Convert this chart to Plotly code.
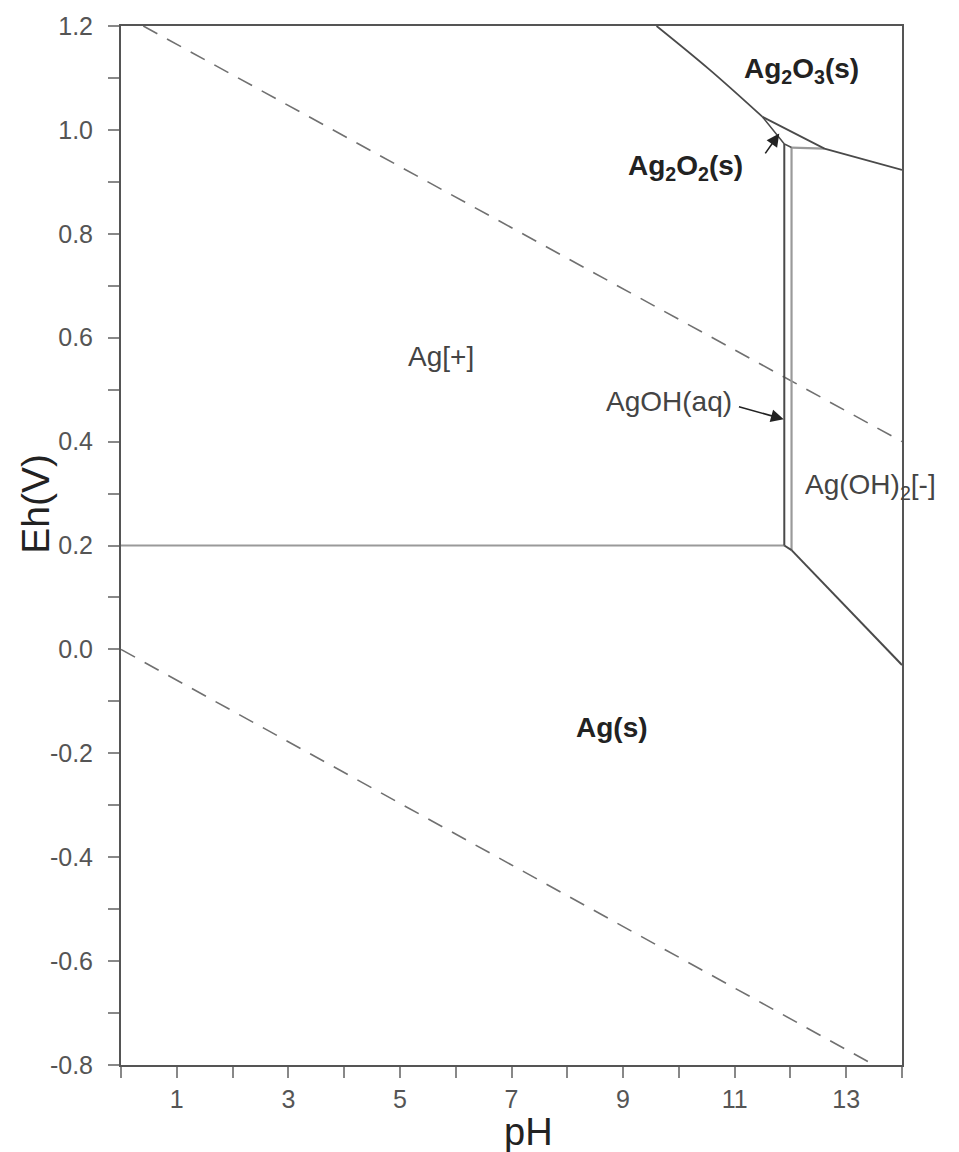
import plotly.graph_objects as go

# ---- data ----
# water stability lines (dashed)
o2_ph = [0.4, 14.0]
o2_eh = [1.20, 0.40]
h2_ph = [0.0, 13.5]
h2_eh = [0.0, -0.80]

# Ag+/Ag(s) boundary
agp_ags_ph = [0.0, 11.89]
agp_ags_eh = [0.20, 0.20]
# Ag+/AgOH(aq) boundary (dark vertical)
agp_agoh_ph = [11.89, 11.89]
agp_agoh_eh = [0.20, 0.973]
# AgOH(aq)/Ag(OH)2- boundary (grey vertical)
agoh_agoh2_ph = [12.02, 12.02]
agoh_agoh2_eh = [0.191, 0.966]
# AgOH(aq)/Ag(s) short segment
agoh_ags_ph = [11.89, 12.02]
agoh_ags_eh = [0.20, 0.191]
# Ag(s)/Ag(OH)2- boundary
ags_agoh2_ph = [12.02, 14.0]
ags_agoh2_eh = [0.191, -0.030]
# Ag2O3 lower boundary (gently curved upper part, then straight)
ag2o3_curve_ph = [9.6, 10.55, 11.5]
ag2o3_curve_eh = [1.20, 1.116, 1.025]
ag2o3_ph = [11.5, 12.61, 14.0]
ag2o3_eh = [1.025, 0.964, 0.923]
# Ag2O2 sliver lower boundary
ag2o2_ph = [11.5, 11.89, 12.02]
ag2o2_eh = [1.025, 0.973, 0.966]
# Ag(OH)2- / Ag2O2 boundary (grey horizontal)
agoh2_top_ph = [12.02, 12.61]
agoh2_top_eh = [0.966, 0.964]

x_ticks = list(range(0, 15))
x_labels = [str(v) if v % 2 == 1 else "" for v in x_ticks]
y_ticks = [round(-0.8 + 0.1 * i, 1) for i in range(21)]
y_labels = [f"{v:.1f}" if round(v * 10) % 2 == 0 else "" for v in y_ticks]

DARK = "#4a4a4a"
GREY = "#9a9a9a"

fig = go.Figure()


def add_line(xs, ys, color, width=2, dash="solid", shape="linear"):
    fig.add_trace(go.Scatter(x=xs, y=ys, mode="lines",
                             line=dict(color=color, width=width, dash=dash,
                                       shape=shape),
                             hoverinfo="skip", showlegend=False))


add_line(o2_ph, o2_eh, "#707070", 1.6, "16px,11px")
add_line(h2_ph, h2_eh, "#707070", 1.6, "16px,11px")
add_line(agp_ags_ph, agp_ags_eh, GREY, 2.2)
add_line(agoh_agoh2_ph, agoh_agoh2_eh, GREY, 2.2)
add_line(agoh2_top_ph, agoh2_top_eh, GREY, 2.2)
add_line(agp_agoh_ph, agp_agoh_eh, DARK, 2)
add_line(agoh_ags_ph, agoh_ags_eh, DARK, 2)
add_line(ags_agoh2_ph, ags_agoh2_eh, DARK, 2)
add_line(ag2o3_curve_ph, ag2o3_curve_eh, DARK, 1.8, shape="spline")
add_line(ag2o3_ph, ag2o3_eh, DARK, 1.8)
add_line(ag2o2_ph, ag2o2_eh, DARK, 1.6)

FONT = "Liberation Sans, Arial, sans-serif"

labels = [
    ("<b>Ag<sub>2</sub>O<sub>3</sub>(s)</b>", 12.2, 1.115, "#222"),
    ("<b>Ag<sub>2</sub>O<sub>2</sub>(s)</b>", 10.12, 0.927, "#222"),
    ("Ag[+]", 5.74, 0.564, "#444"),
    ("AgOH(aq)", 9.83, 0.478, "#444"),
    ("Ag(OH)<sub>2</sub>[-]", 13.43, 0.314, "#444"),
    ("<b>Ag(s)</b>", 8.81, -0.15, "#222"),
]
for text, x, y, col in labels:
    fig.add_annotation(x=x, y=y, xref="x", yref="y", text=text, showarrow=False,
                       font=dict(family=FONT, size=28, color=col),
                       xanchor="center", yanchor="middle")

# arrows
arrows = [
    (11.80, 0.993, 11.53, 0.952),   # to Ag2O2(s)
    (11.88, 0.443, 11.05, 0.468),   # to AgOH(aq)
]
for hx, hy, tx, ty in arrows:
    fig.add_annotation(x=hx, y=hy, ax=tx, ay=ty, xref="x", yref="y",
                       axref="x", ayref="y", text="", showarrow=True,
                       arrowhead=2, arrowsize=1.6, arrowwidth=1.6,
                       arrowcolor="#222")

# axis titles
fig.add_annotation(x=-0.109, y=0.28, xref="paper", yref="y", text="Eh(V)",
                   showarrow=False, textangle=-90,
                   font=dict(family=FONT, size=39, color="#222"),
                   xanchor="center", yanchor="middle")
fig.add_annotation(x=7.3, y=-0.0645, xref="x", yref="paper", text="pH",
                   showarrow=False,
                   font=dict(family=FONT, size=38, color="#222"),
                   xanchor="center", yanchor="middle")

axis_common = dict(showgrid=False, zeroline=False, showline=True,
                   linecolor="#555", linewidth=2, mirror=True,
                   ticks="outside", ticklen=11, tickwidth=2, tickcolor="#888",
                   tickfont=dict(family=FONT, size=25, color="#555"))

fig.update_xaxes(range=[0, 14], tickmode="array", tickvals=x_ticks,
                 ticktext=x_labels, ticklabelstandoff=0, **axis_common)
fig.update_yaxes(range=[-0.8, 1.2], tickmode="array", tickvals=y_ticks,
                 ticktext=y_labels, ticklabelstandoff=10, **axis_common)

fig.update_layout(width=959, height=1152,
                  margin=dict(l=121, r=57, t=24, b=87),
                  paper_bgcolor="white", plot_bgcolor="white",
                  showlegend=False)

fig.write_html("out.html")
